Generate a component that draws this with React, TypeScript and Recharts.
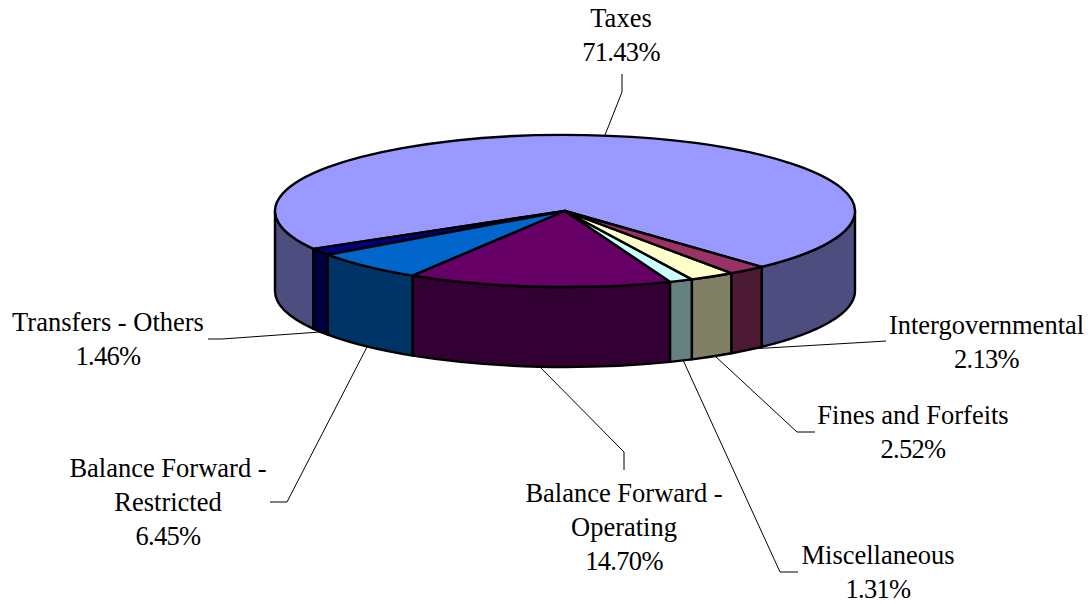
import { Pie, PieChart } from "recharts";

const sliceNames = [
  "Taxes",
  "Transfers - Others",
  "Balance Forward - Restricted",
  "Balance Forward - Operating",
  "Miscellaneous",
  "Fines and Forfeits",
  "Intergovernmental",
];
const sliceValues = [71.43, 1.46, 6.45, 14.7, 1.31, 2.52, 2.13];
const topColors = ["#9999FF", "#000080", "#0066CC", "#660066", "#CCFFFF", "#FFFFCC", "#993366"];
const wallColors = ["#4D4D80", "#000040", "#003366", "#330033", "#668080", "#808066", "#4D1A33"];

const chartData = sliceNames.map((name, i) => ({
  name,
  value: sliceValues[i],
  fill: topColors[i],
  wall: wallColors[i],
}));

// label placement: centre x, first baseline, then the wrapped name rows
const labelSpots = [
  { x: 621, y: 27, rows: ["Taxes"] },
  { x: 108, y: 330.5, rows: ["Transfers - Others"] },
  { x: 168, y: 477, rows: ["Balance Forward -", "Restricted"] },
  { x: 624, y: 502, rows: ["Balance Forward -", "Operating"] },
  { x: 878, y: 564, rows: ["Miscellaneous"] },
  { x: 913, y: 424, rows: ["Fines and Forfeits"] },
  { x: 986.5, y: 334, rows: ["Intergovernmental"] },
];
const leaderPaths = [
  "622,74 622,92 605,135",
  "208,339 222,339 320,332",
  "270,502 287,502 367,347",
  "624,470 624,452 540,367",
  "798,572 780,572 683,360",
  "815,432 797,432 715,356",
  "886,341 870,342 750,349",
];

const RX = 290;
const RY = 76;
const DEPTH = 80;
const ROW_HEIGHT = 34;

const px = (cx: number, a: number) => cx + RX * Math.cos((a * Math.PI) / 180);
const py = (cy: number, a: number) => cy - RY * Math.sin((a * Math.PI) / 180);

const wallPath = (cx: number, cy: number, a1: number, a2: number) => {
  const large = a2 - a1 > 180 ? 1 : 0;
  return [
    `M${px(cx, a1)},${py(cy, a1)}`,
    `A${RX},${RY} 0 ${large} 0 ${px(cx, a2)},${py(cy, a2)}`,
    `L${px(cx, a2)},${py(cy, a2) + DEPTH}`,
    `A${RX},${RY} 0 ${large} 1 ${px(cx, a1)},${py(cy, a1) + DEPTH}`,
    "Z",
  ].join(" ");
};

// squash the library's sector into an ellipse and hang the front wall under it
const TiltedSlice = (props: any) => {
  const { cx, cy, startAngle, endAngle, fill, wall } = props;
  const walls: [number, number][] = [];
  [[-180, 0], [180, 360]].forEach(([lo, hi]) => {
    const a1 = Math.max(lo, startAngle);
    const a2 = Math.min(hi, endAngle);
    if (a2 > a1) walls.push([a1, a2]);
  });
  const large = endAngle - startAngle > 180 ? 1 : 0;
  const top = `M${cx},${cy} L${px(cx, startAngle)},${py(cy, startAngle)} A${RX},${RY} 0 ${large} 0 ${px(cx, endAngle)},${py(cy, endAngle)} Z`;
  return (
    <g>
      {walls.map(([a1, a2]) => (
        <path key={a1} d={wallPath(cx, cy, a1, a2)} fill={wall} stroke="#000" strokeWidth={2.4} strokeLinejoin="round" />
      ))}
      <path d={top} fill={fill} stroke="#000" strokeWidth={2.4} strokeLinejoin="round" />
    </g>
  );
};

const renderLabel = (props: any) => {
  const spot = labelSpots[props.index];
  const percentText = `${sliceValues[props.index].toFixed(2)}%`;
  return (
    <text x={spot.x} y={spot.y} textAnchor="middle" fontFamily="'Liberation Serif'" fontSize={26.5} fill="#000">
      {spot.rows.map((row, i) => (
        <tspan key={row} x={spot.x} y={spot.y + i * ROW_HEIGHT}>
          {row}
        </tspan>
      ))}
      <tspan x={spot.x} y={spot.y + spot.rows.length * ROW_HEIGHT} letterSpacing={-0.7}>
        {percentText}
      </tspan>
    </text>
  );
};

const renderLeader = (props: any) => (
  <polyline points={leaderPaths[props.index]} fill="none" stroke="#000" strokeWidth={1} />
);

const App = () => (
  <div style={{ position: "absolute", left: 0, top: 0, width: 1091, height: 604, background: "#fff" }}>
    <PieChart width={1091} height={604} margin={{ top: 0, right: 0, bottom: 0, left: 0 }}>
      <Pie
        data={chartData}
        dataKey="value"
        nameKey="name"
        cx={565}
        cy={211}
        innerRadius={0}
        outerRadius={RX}
        startAngle={-47.3}
        endAngle={312.7}
        paddingAngle={0}
        shape={TiltedSlice}
        label={renderLabel}
        labelLine={renderLeader}
        isAnimationActive={false}
      />
    </PieChart>
  </div>
);

export default App;
